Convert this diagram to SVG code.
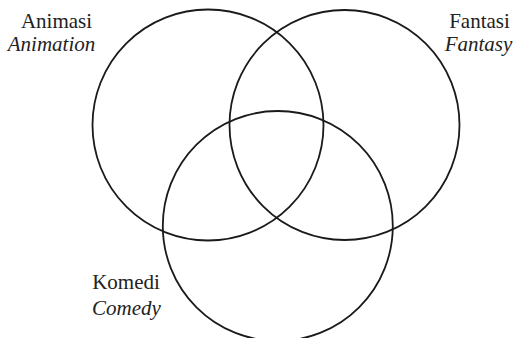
<svg xmlns="http://www.w3.org/2000/svg" width="515" height="338" viewBox="0 0 515 338">
<style>
.c{fill:none;stroke:#1a1a1a;stroke-width:1.8}
.t{font-family:"Liberation Serif","Tinos","Times New Roman","Times","Noto Serif","DejaVu Serif",serif;font-size:21px;fill:#222;text-anchor:middle}
.i{font-style:italic}
</style>
<rect width="515" height="338" fill="#fff"/>
<g id="connectors"></g>
<g id="animasi">
<circle class="c" cx="208" cy="125" r="115.5"/>
<text class="t" x="56.5" y="28">Animasi</text>
<text class="t i" x="51.5" y="51">Animation</text>
</g>
<g id="fantasi">
<circle class="c" cx="344.5" cy="125" r="115"/>
<text class="t" x="479.5" y="28">Fantasi</text>
<text class="t i" x="478.5" y="51">Fantasy</text>
</g>
<g id="komedi">
<circle class="c" cx="277.8" cy="226" r="115"/>
<text class="t" x="126" y="289">Komedi</text>
<text class="t i" x="126.5" y="315">Comedy</text>
</g>
</svg>
